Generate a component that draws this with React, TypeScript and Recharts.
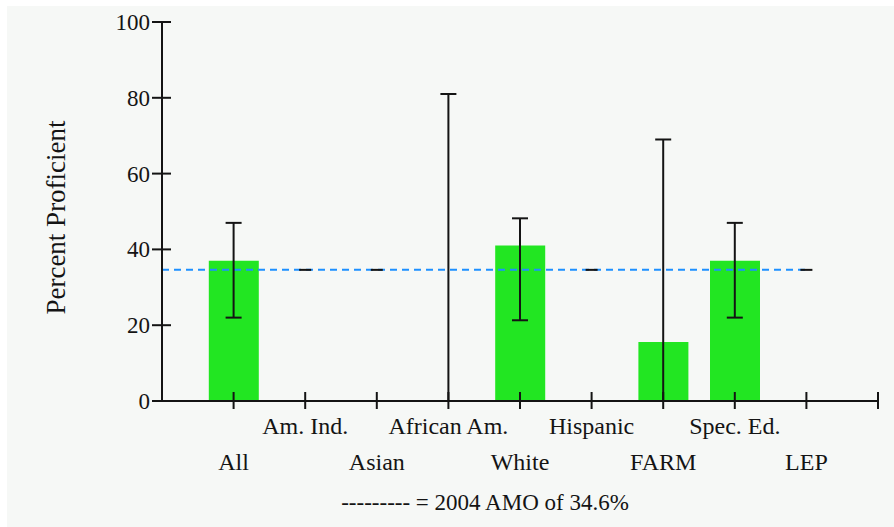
import React from 'react';
import {
  ComposedChart,
  Bar,
  ErrorBar,
  Scatter,
  XAxis,
  YAxis,
  ReferenceLine,
  Label,
} from 'recharts';

const CATEGORIES = ['All', 'Am. Ind.', 'Asian', 'African Am.', 'White', 'Hispanic', 'FARM', 'Spec. Ed.', 'LEP'];
const PROFICIENT: (number | null)[] = [37, null, null, 0, 41, null, 15.6, 37, null];
const CI_LOW: (number | null)[] = [22, null, null, 0, 21.3, null, 0, 22, null];
const CI_HIGH: (number | null)[] = [47, null, null, 81, 48.2, null, 69, 47, null];
const NO_DATA = [false, true, true, false, false, true, false, false, true];
const AMO = 34.6;
const Y_TICKS = [0, 20, 40, 60, 80, 100];
const X_TICKS = [1, 2, 3, 4, 5, 6, 7, 8, 9, 10];

const FONT = '"Liberation Serif", "Times New Roman", serif';
const INK = '#141414';

const barData = CATEGORIES.map((name, i) => ({
  pos: i + 1,
  name,
  value: PROFICIENT[i],
}));

// error bars drawn from a hidden scatter so a zero-height bar still gets its whisker
const ciData = CATEGORIES.map((name, i) => ({
  pos: i + 1,
  name,
  value: PROFICIENT[i],
  err:
    PROFICIENT[i] == null
      ? null
      : [(PROFICIENT[i] as number) - (CI_LOW[i] as number), (CI_HIGH[i] as number) - (PROFICIENT[i] as number)],
})).filter((d) => d.value != null);

const markerData = CATEGORIES.map((name, i) => ({ pos: i + 1, name, mark: AMO })).filter((_, i) => NO_DATA[i]);

const CategoryTick = (props: any) => {
  const { x, y, payload } = props;
  const label = CATEGORIES[payload.value - 1] ?? '';
  const upper = payload.value % 2 === 0;
  return (
    <g>
      <line x1={x} x2={x} y1={y - 9} y2={y + 8} stroke={INK} strokeWidth={2} />
      {label && (
        <text x={x} y={y + (upper ? 33 : 68.5)} textAnchor="middle" fontFamily={FONT} fontSize={24} fill={INK}>
          {label}
        </text>
      )}
    </g>
  );
};

const ValueTick = (props: any) => {
  const { x, y, payload } = props;
  return (
    <g>
      <line x1={x - 10} x2={x + 9} y1={y} y2={y} stroke={INK} strokeWidth={2} />
      <text x={x - 12} y={y + 8} textAnchor="end" fontFamily={FONT} fontSize={23} fill={INK}>
        {payload.value}
      </text>
    </g>
  );
};

const NoDataMark = (props: any) => {
  const { cx, cy } = props;
  return <line x1={cx - 6} x2={cx + 6} y1={cy} y2={cy} stroke={INK} strokeWidth={2} />;
};

const Hidden = () => <g />;

export default function App() {
  return (
    <div style={{ position: 'fixed', left: 0, top: 0, width: 894, height: 527, background: '#ffffff' }}>
      <div style={{ position: 'absolute', left: 7, top: 6, right: 0, bottom: 0, background: '#f6f8f6' }} />
      <div style={{ position: 'absolute', left: 0, top: 0 }}>
        <ComposedChart width={894} height={527} data={barData} margin={{ top: 22, right: 16, bottom: 96, left: 100 }}>
          <XAxis
            dataKey="pos"
            type="number"
            domain={[0, 10]}
            ticks={X_TICKS}
            interval={0}
            height={30}
            tickSize={0}
            tickMargin={0}
            tickLine={false}
            axisLine={{ stroke: INK, strokeWidth: 2 }}
            tick={<CategoryTick />}
          >
            <Label
              content={() => (
                <text x={485} y={510} textAnchor="middle" fontFamily={FONT} fontSize={23} fill={INK}>
                  --------- = 2004 AMO of 34.6%
                </text>
              )}
            />
          </XAxis>
          <YAxis
            type="number"
            domain={[0, 100]}
            ticks={Y_TICKS}
            width={62}
            tickSize={0}
            tickMargin={0}
            tickLine={false}
            axisLine={{ stroke: INK, strokeWidth: 2 }}
            tick={<ValueTick />}
          >
            <Label
              content={() => (
                <text
                  x={65}
                  y={217.5}
                  transform="rotate(-90 65 217.5)"
                  textAnchor="middle"
                  fontFamily={FONT}
                  fontSize={27}
                  fill={INK}
                >
                  Percent Proficient
                </text>
              )}
            />
          </YAxis>
          <Bar dataKey="value" fill="#22e622" barSize={50} isAnimationActive={false} />
          <ReferenceLine
            segment={[
              { x: 0, y: AMO },
              { x: 9.05, y: AMO },
            ]}
            stroke="#1e90ff"
            strokeWidth={2}
            strokeDasharray="7 5"
          />
          <Scatter data={ciData} dataKey="value" shape={<Hidden />} isAnimationActive={false}>
            <ErrorBar dataKey="err" direction="y" width={8} stroke={INK} strokeWidth={2} isAnimationActive={false} />
          </Scatter>
          <Scatter data={markerData} dataKey="mark" shape={<NoDataMark />} isAnimationActive={false} />
        </ComposedChart>
      </div>
    </div>
  );
}
